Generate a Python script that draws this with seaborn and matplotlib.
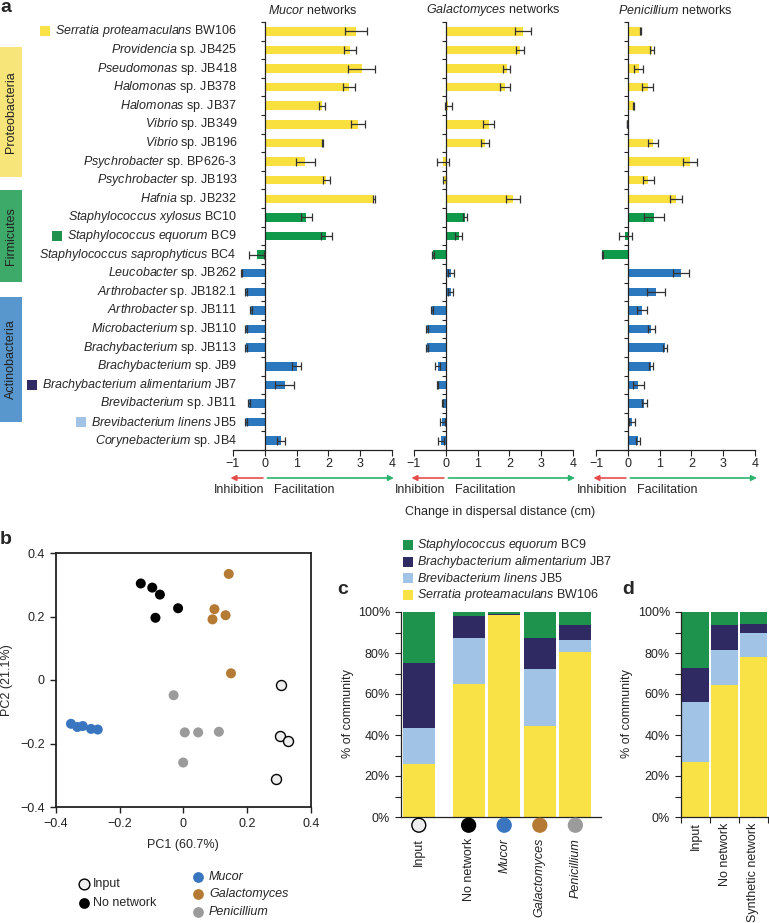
import numpy as np
import pandas as pd
import matplotlib
matplotlib.use("Agg")
import matplotlib.pyplot as plt
from matplotlib.patches import Rectangle
import seaborn as sns

# ---------------- panel a: dispersal change per bacterium ----------------
genus = ['Serratia proteamaculans', 'Providencia', 'Pseudomonas', 'Halomonas', 'Halomonas',
         'Vibrio', 'Vibrio', 'Psychrobacter', 'Psychrobacter', 'Hafnia',
         'Staphylococcus xylosus', 'Staphylococcus equorum', 'Staphylococcus saprophyticus',
         'Leucobacter', 'Arthrobacter', 'Arthrobacter', 'Microbacterium', 'Brachybacterium',
         'Brachybacterium', 'Brachybacterium alimentarium', 'Brevibacterium',
         'Brevibacterium linens', 'Corynebacterium']
strain = ['BW106', 'sp. JB425', 'sp. JB418', 'sp. JB378', 'sp. JB37', 'sp. JB349', 'sp. JB196',
          'sp. BP626-3', 'sp. JB193', 'sp. JB232', 'BC10', 'BC9', 'BC4', 'sp. JB262',
          'sp. JB182.1', 'sp. JB111', 'sp. JB110', 'sp. JB113', 'sp. JB9', 'JB7', 'sp. JB11',
          'JB5', 'sp. JB4']
phylum = ['Proteobacteria'] * 10 + ['Firmicutes'] * 3 + ['Actinobacteria'] * 10

mucor_change = [2.86, 2.68, 3.05, 2.64, 1.79, 2.93, 1.82, 1.27, 1.93, 3.43, 1.30, 1.94, -0.26,
                -0.73, -0.59, -0.43, -0.59, -0.59, 1.00, 0.63, -0.50, -0.59, 0.50]
mucor_se = [0.35, 0.19, 0.42, 0.19, 0.10, 0.21, 0.02, 0.30, 0.11, 0.02, 0.17, 0.17, 0.25,
            0.02, 0.02, 0.02, 0.02, 0.02, 0.14, 0.30, 0.02, 0.02, 0.13]
galacto_change = [2.43, 2.33, 1.91, 1.86, 0.07, 1.35, 1.23, -0.08, -0.05, 2.11, 0.60, 0.40, -0.40,
                  0.17, 0.15, -0.43, -0.59, -0.59, -0.25, -0.27, -0.10, -0.11, -0.15]
galacto_se = [0.25, 0.12, 0.11, 0.16, 0.11, 0.18, 0.12, 0.19, 0.05, 0.21, 0.07, 0.11, 0.02,
              0.10, 0.07, 0.02, 0.02, 0.02, 0.08, 0.02, 0.02, 0.08, 0.09]
penic_change = [0.40, 0.77, 0.34, 0.63, 0.18, -0.02, 0.79, 1.96, 0.65, 1.51, 0.83, -0.08, -0.80,
                1.67, 0.88, 0.44, 0.73, 1.17, 0.73, 0.33, 0.52, 0.14, 0.32]
penic_se = [0.02, 0.06, 0.15, 0.17, 0.01, 0.01, 0.15, 0.22, 0.18, 0.18, 0.31, 0.20, 0.02,
            0.26, 0.29, 0.15, 0.11, 0.06, 0.06, 0.17, 0.07, 0.10, 0.06]
networks = ['Mucor', 'Galactomyces', 'Penicillium']

# ---------------- panel b: PCA ----------------
pca_group = ['Input'] * 4 + ['No network'] * 5 + ['Mucor'] * 5 + ['Galactomyces'] * 5 + ['Penicillium'] * 5
pc1 = [0.306, 0.302, 0.327, 0.291,
       -0.134, -0.098, -0.074, -0.017, -0.088,
       -0.353, -0.333, -0.316, -0.290, -0.269,
       0.142, 0.097, 0.132, 0.091, 0.149,
       -0.031, 0.004, 0.046, 0.111, -0.001]
pc2 = [-0.017, -0.175, -0.192, -0.312,
       0.304, 0.291, 0.269, 0.226, 0.196,
       -0.138, -0.148, -0.145, -0.154, -0.156,
       0.334, 0.223, 0.204, 0.191, 0.021,
       -0.048, -0.165, -0.165, -0.163, -0.260]

# ---------------- panels c, d: community composition (%) ----------------
c_groups = ['Input', 'No network', 'Mucor', 'Galactomyces', 'Penicillium']
c_serratia = [25.7, 64.7, 98.3, 44.6, 80.7]
c_linens = [17.9, 22.8, 0.2, 27.4, 5.8]
c_alimentarium = [31.7, 10.4, 0.5, 15.3, 7.3]
c_equorum = [24.7, 2.1, 1.0, 12.7, 6.2]

d_groups = ['Input', 'No network', 'Synthetic network']
d_serratia = [26.9, 64.2, 78.0]
d_linens = [29.0, 17.5, 11.8]
d_alimentarium = [17.0, 12.1, 4.5]
d_equorum = [27.1, 6.2, 5.7]

# colours
bar_colors = {'Proteobacteria': '#F9E03E', 'Firmicutes': '#0F9A4B', 'Actinobacteria': '#2B78BE'}
box_colors = {'Proteobacteria': '#F7E57A', 'Firmicutes': '#3DAA6A', 'Actinobacteria': '#5897CE'}
sp_colors = {'equorum': '#1E934E', 'alimentarium': '#2F2A62', 'linens': '#A0C3E6', 'serratia': '#F9E246'}
pca_colors = {'No network': '#000000', 'Mucor': '#3A76C0', 'Galactomyces': '#B57A33',
              'Penicillium': '#9B9B9B'}

sns.set_style('ticks')
plt.rcParams['font.family'] = ['Liberation Sans', 'DejaVu Sans']
plt.rcParams['mathtext.fontset'] = 'custom'
plt.rcParams['mathtext.it'] = 'Liberation Sans:italic'
plt.rcParams['mathtext.rm'] = 'Liberation Sans'
plt.rcParams['mathtext.bf'] = 'Liberation Sans:bold'
plt.rcParams['font.size'] = 9
plt.rcParams['axes.linewidth'] = 0.9
plt.rcParams['axes.edgecolor'] = '#222222'
plt.rcParams['xtick.color'] = '#222222'
plt.rcParams['ytick.color'] = '#222222'
plt.rcParams['xtick.labelsize'] = 9
plt.rcParams['ytick.labelsize'] = 9

W, H = 769, 923
fig = plt.figure(figsize=(W / 100, H / 100), dpi=100)


def box(l, t, r, b):
    return fig.add_axes([l / W, 1 - b / H, (r - l) / W, (b - t) / H])


def ital(name, rest):
    return r'$\it{' + name.replace(' ', r'\ ') + '}$ ' + rest


# overlay for free text / shapes in pixel coordinates
ov = fig.add_axes([0, 0, 1, 1], zorder=10)
ov.set_xlim(0, W)
ov.set_ylim(H, 0)
ov.axis('off')

# ---------------- panel a ----------------
keys = [f'{g} {s}' for g, s in zip(genus, strain)]
n = len(keys)
A_TOP, A_BOT, A_W = 22, 450, 159
a_lefts = [233, 414, 596]
all_change = [mucor_change, galacto_change, penic_change]
all_se = [mucor_se, galacto_se, penic_se]

for fungus, vals, errs, left in zip(networks, all_change, all_se, a_lefts):
    ax = box(left, A_TOP, left + A_W, A_BOT)
    df = pd.DataFrame({'strain': keys, 'change': vals, 'phylum': phylum})
    sns.barplot(data=df, x='change', y='strain', hue='phylum', palette=bar_colors,
                dodge=False, width=0.46, legend=False, errorbar=None, linewidth=0,
                saturation=1, ax=ax)
    ax.errorbar(vals, np.arange(n), xerr=errs, fmt='none', ecolor='#333333',
                elinewidth=0.9, capsize=2.6, capthick=0.9, zorder=3)
    ax.set_xlim(-1, 4)
    ax.set_ylim(n - 0.5, -0.5)
    ax.spines[['top', 'right']].set_visible(False)
    ax.spines['left'].set_position(('data', 0))
    ax.spines['bottom'].set_bounds(-1, 4)
    ax.set_yticks(np.arange(-0.5, n, 1))
    ax.set_yticklabels([])
    ax.tick_params(axis='y', length=3, width=0.8, direction='out')
    ax.set_xticks(range(-1, 5))
    ax.set_xticklabels(['\u22121', '0', '1', '2', '3', '4'])
    ax.tick_params(axis='x', length=4, width=0.8, pad=2)
    ax.set_xlabel('')
    ax.set_ylabel('')

    def px(v, left=left):
        return left + (v + 1) * A_W / 5

    ov.text(left + A_W / 2, 10, ital(fungus, 'networks'), ha='center', va='center', fontsize=9)
    ov.annotate('', xy=(px(-1.08), 478), xytext=(px(-0.06), 478),
                arrowprops=dict(arrowstyle='-|>', color='#E64B4B', lw=1.2,
                                mutation_scale=8, shrinkA=0, shrinkB=0))
    ov.annotate('', xy=(px(4.06), 478), xytext=(px(0.08), 478),
                arrowprops=dict(arrowstyle='-|>', color='#2DB36E', lw=1.2,
                                mutation_scale=8, shrinkA=0, shrinkB=0))
    ov.text(px(0.0), 490, 'Inhibition', ha='right', va='center', fontsize=9)
    ov.text(px(0.29), 490, 'Facilitation', ha='left', va='center', fontsize=9)

ov.text(500, 512, 'Change in dispersal distance (cm)', ha='center', va='center', fontsize=9)

# row labels
row_h = (A_BOT - A_TOP) / n
row_texts = []
for i, (g, s) in enumerate(zip(genus, strain)):
    t = ov.text(237, A_TOP + (i + 0.5) * row_h, ital(g, s), ha='right', va='center', fontsize=9)
    row_texts.append(t)

# phylum boxes
for name, top, bot in [('Proteobacteria', 47, 177), ('Firmicutes', 190, 282),
                       ('Actinobacteria', 297, 422)]:
    ov.add_patch(Rectangle((0, top), 22, bot - top, color=box_colors[name], lw=0))
    ov.text(11, (top + bot) / 2, name, rotation=90, ha='center', va='center', fontsize=9,
            color='#222222')

ov.text(0, 8, 'a', fontsize=14, fontweight='bold', va='center')

# ---------------- panel b ----------------
pca = pd.DataFrame({'PC1': pc1, 'PC2': pc2, 'group': pca_group})
axb = box(56, 553, 311, 807)
sns.scatterplot(data=pca[pca.group != 'Input'], x='PC1', y='PC2', hue='group',
                palette=pca_colors, s=52, linewidth=0, legend=False, ax=axb)
sns.scatterplot(data=pca[pca.group == 'Input'], x='PC1', y='PC2', color='#EEEEEE',
                edgecolor='black', linewidth=1, s=52, legend=False, ax=axb)
axb.set_xlim(-0.4, 0.4)
axb.set_ylim(-0.4, 0.4)
ticks = [-0.4, -0.2, 0, 0.2, 0.4]
tick_lab = ['\u22120.4', '\u22120.2', '0', '0.2', '0.4']
axb.set_xticks(ticks)
axb.set_xticklabels(tick_lab)
axb.set_yticks(ticks)
axb.set_yticklabels(tick_lab)
for sp in axb.spines.values():
    sp.set_linewidth(1.3)
axb.tick_params(length=4, width=1, pad=4)
axb.set_xlabel('')
axb.set_ylabel('')
ov.text(183, 845, 'PC1 (60.7%)', ha='center', va='center', fontsize=9)
ov.text(7, 680, 'PC2 (21.1%)', ha='center', va='center', rotation=90, fontsize=9)
ov.text(0, 539, 'b', fontsize=14, fontweight='bold', va='center')

# legend of panel b
ov.scatter([84], [884], s=60, color='#EEEEEE', edgecolor='black', linewidth=1)
ov.scatter([84], [903], s=60, color='black', linewidth=0)
ov.text(93, 884, 'Input', va='center', fontsize=9)
ov.text(93, 903, 'No network', va='center', fontsize=9)
for name, y in [('Mucor', 877), ('Galactomyces', 894), ('Penicillium', 912)]:
    ov.scatter([198], [y], s=60, color=pca_colors[name], linewidth=0)
    ov.text(209, y, name, va='center', fontsize=9, fontstyle='italic')


# ---------------- panels c, d: stacked composition ----------------
def stacked(ax, x, layers, native, width):
    # draw cumulative tops, tallest first, so each layer shows its own slice
    tops = np.cumsum(np.array([l[0] for l in layers]), axis=0)
    for (vals, col), top in reversed(list(zip(layers, tops))):
        if native:
            sns.barplot(x=x, y=top, native_scale=True, orient='x', color=col, width=width,
                        linewidth=0, errorbar=None, saturation=1, ax=ax)
        else:
            sns.barplot(x=x, y=top, order=x, color=col, width=width, linewidth=0,
                        errorbar=None, saturation=1, ax=ax)


c_pos = [0, 1.4, 2.4, 3.4, 4.4]
axc = box(401, 612, 601, 817)
stacked(axc, c_pos, [(c_serratia, sp_colors['serratia']), (c_linens, sp_colors['linens']),
                     (c_alimentarium, sp_colors['alimentarium']), (c_equorum, sp_colors['equorum'])],
        True, 0.9)
axc.set_xlim(-0.5, 5.12)
axc.set_ylim(0, 100)
axc.spines[['top', 'right']].set_visible(False)
axc.set_yticks(range(0, 101, 20))
axc.set_yticklabels([f'{v}%' for v in range(0, 101, 20)])
axc.set_yticks(range(10, 100, 20), minor=True)
axc.tick_params(axis='y', which='both', length=4, width=0.8, pad=4)
axc.set_xticks(c_pos)
axc.set_xticklabels(c_groups, rotation=90)
for lbl in axc.get_xticklabels()[2:]:
    lbl.set_fontstyle('italic')
axc.tick_params(axis='x', length=0, pad=15)
axc.set_xlabel('')
axc.set_ylabel('')
circle_face = ['#EEEEEE', '#000000', pca_colors['Mucor'], pca_colors['Galactomyces'],
               pca_colors['Penicillium']]
circle_edge = ['#000000', '#000000', pca_colors['Mucor'], pca_colors['Galactomyces'],
               pca_colors['Penicillium']]
axc.scatter(c_pos, [-4] * 5, s=100, c=circle_face, edgecolors=circle_edge, linewidths=1,
            clip_on=False, zorder=5)
ov.text(348, 714, '% of community', rotation=90, ha='center', va='center', fontsize=9)
ov.text(337, 589, 'c', fontsize=14, fontweight='bold', va='center')

# legend of panel c
for (key, label), y in zip([('equorum', ital('Staphylococcus equorum', 'BC9')),
                            ('alimentarium', ital('Brachybacterium alimentarium', 'JB7')),
                            ('linens', ital('Brevibacterium linens', 'JB5')),
                            ('serratia', ital('Serratia proteamaculans', 'BW106'))],
                           [545, 562, 578, 595]):
    ov.add_patch(Rectangle((403, y - 5), 10, 10, color=sp_colors[key], lw=0))
    ov.text(417, y, label, va='center', fontsize=9)

axd = box(681, 612, 768, 817)
stacked(axd, d_groups, [(d_serratia, sp_colors['serratia']), (d_linens, sp_colors['linens']),
                        (d_alimentarium, sp_colors['alimentarium']), (d_equorum, sp_colors['equorum'])],
        False, 0.92)
axd.set_xlim(-0.5, 2.5)
axd.set_ylim(0, 100)
axd.spines[['top', 'right']].set_visible(False)
axd.set_yticks(range(0, 101, 20))
axd.set_yticklabels([f'{v}%' for v in range(0, 101, 20)])
axd.set_yticks(range(10, 100, 20), minor=True)
axd.tick_params(axis='y', which='both', length=4, width=0.8, pad=4)
axd.set_xticks([-0.5, 0.5, 1.5, 2.5])
axd.set_xticklabels([])
axd.set_xticks([0, 1, 2], minor=True)
axd.set_xticklabels(d_groups, minor=True, rotation=90)
axd.tick_params(axis='x', which='major', length=4, width=0.8)
axd.tick_params(axis='x', which='minor', length=0, pad=4)
axd.set_xlabel('')
axd.set_ylabel('')
ov.text(627, 714, '% of community', rotation=90, ha='center', va='center', fontsize=9)
ov.text(622, 589, 'd', fontsize=14, fontweight='bold', va='center')

# coloured squares next to the four strains used in c/d
fig.canvas.draw()
renderer = fig.canvas.get_renderer()
for idx, key in [(0, 'serratia'), (11, 'equorum'), (19, 'alimentarium'), (21, 'linens')]:
    bb = row_texts[idx].get_window_extent(renderer)
    yc = A_TOP + (idx + 0.5) * row_h
    ov.add_patch(Rectangle((bb.x0 - 15, yc - 5), 10, 10, color=sp_colors[key], lw=0))

fig.savefig('out.png', dpi=100)
